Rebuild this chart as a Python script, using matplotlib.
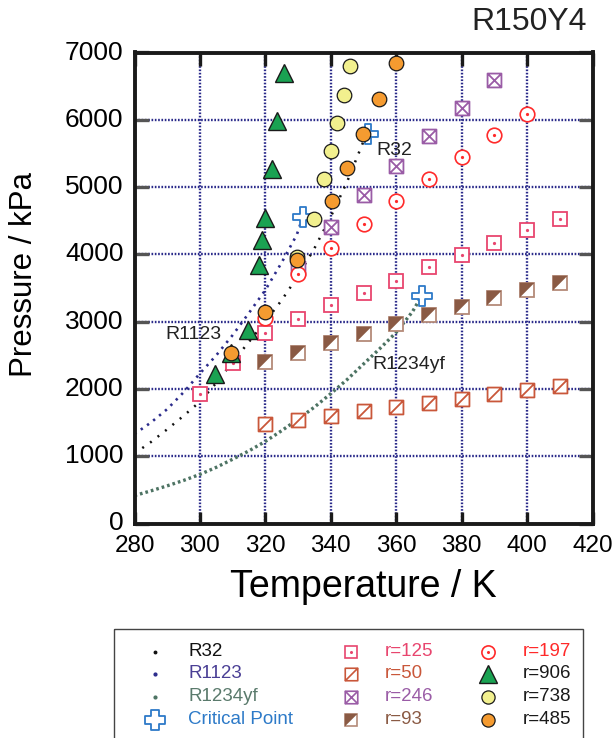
import matplotlib
matplotlib.use("Agg")
import matplotlib.pyplot as plt
from matplotlib.path import Path
from matplotlib.patches import Rectangle

plt.rcParams['font.family'] = ['Liberation Sans', 'DejaVu Sans']

# ---------------- data ----------------
T_r125 = [300, 310, 320, 330, 340, 350, 360, 370, 380, 390, 400, 410]
P_r125 = [1920, 2390, 2835, 3035, 3240, 3430, 3600, 3810, 3995, 4170, 4355, 4530]

T_r50 = [320, 330, 340, 350, 360, 370, 380, 390, 400, 410]
P_r50 = [1480, 1545, 1600, 1665, 1725, 1790, 1855, 1920, 1990, 2050]

T_r246 = [330, 340, 350, 360, 370, 380, 390]
P_r246 = [3790, 4405, 4875, 5320, 5755, 6175, 6595]

T_r93 = [320, 330, 340, 350, 360, 370, 380, 390, 400, 410]
P_r93 = [2405, 2540, 2690, 2815, 2960, 3100, 3220, 3345, 3470, 3580]

T_r197 = [320, 330, 340, 350, 360, 370, 380, 390, 400]
P_r197 = [3050, 3715, 4100, 4455, 4790, 5120, 5445, 5770, 6090]

T_r906 = [304.6, 309.6, 314.8, 318.1, 318.9, 319.9, 321.9, 323.7, 325.8]
P_r906 = [2220, 2530, 2875, 3840, 4210, 4535, 5270, 5985, 6700]

T_r738 = [329.8, 334.9, 337.9, 340.0, 342.0, 344.0, 345.9]
P_r738 = [3960, 4520, 5120, 5535, 5955, 6375, 6798]

T_r485 = [309.6, 319.9, 329.8, 340.3, 344.9, 349.9, 354.8, 359.9]
P_r485 = [2530, 3147, 3915, 4797, 5287, 5787, 6307, 6838]

T_cp = [351.4, 331.4, 367.8]
P_cp = [5790, 4550, 3385]

T_R32 = [280, 285, 290, 295, 300, 305, 310, 315, 320, 325, 330, 335, 340, 345, 350, 351.4]
P_R32 = [1040, 1210, 1400, 1600, 1810, 2090, 2400, 2700, 3000, 3320, 3680, 4090, 4560, 5080, 5680, 5790]

T_R1123 = [280, 285, 290, 295, 300, 305, 310, 315, 320, 325, 329.6, 331.4]
P_R1123 = [1330, 1500, 1700, 1950, 2230, 2500, 2800, 3130, 3470, 3880, 4290, 4550]

T_R1234yf = [280, 285, 290, 295, 300, 305, 310, 315, 320, 325, 330, 335, 340, 345, 350, 355, 360, 365, 367.8]
P_R1234yf = [415, 485, 560, 640, 730, 835, 955, 1080, 1220, 1380, 1550, 1730, 1930, 2140, 2370, 2600, 2840, 3150, 3385]

x_ticks = [280, 300, 320, 340, 360, 380, 400, 420]
y_ticks = [0, 1000, 2000, 3000, 4000, 5000, 6000, 7000]

# ---------------- marker shapes ----------------
sq = [(-1, -1), (1, -1), (1, 1), (-1, 1), (-1, -1)]
sq_codes = [Path.MOVETO, Path.LINETO, Path.LINETO, Path.LINETO, Path.CLOSEPOLY]
m_slash = Path(sq + [(-1, -1), (1, 1)], sq_codes + [Path.MOVETO, Path.LINETO])
m_cross = Path(sq + [(-1, -1), (1, 1), (-1, 1), (1, -1)],
               sq_codes + [Path.MOVETO, Path.LINETO, Path.MOVETO, Path.LINETO])
m_half = Path([(-1, -1), (-1, 1), (1, 1), (-1, -1)],
              [Path.MOVETO, Path.LINETO, Path.LINETO, Path.CLOSEPOLY])
a, b = 0.36, 1.0
m_plus = Path([(-a, b), (a, b), (a, a), (b, a), (b, -a), (a, -a), (a, -b), (-a, -b),
               (-a, -a), (-b, -a), (-b, a), (-a, a), (-a, b)],
              [Path.MOVETO] + [Path.LINETO] * 11 + [Path.CLOSEPOLY])

C125 = '#e8456e'
C50 = '#c9573a'
C246 = '#9a5ca6'
C93 = '#8a5a44'
C93e = '#b48a78'
C197 = '#ff2a2a'
CTRI = '#1aa252'
CYEL = '#f2f08e'
CORA = '#f59b30'
CCP = '#2d7ac8'
CR32 = '#111111'
CR1123 = '#2c2c8c'
CR1234 = '#4d7363'

fig = plt.figure(figsize=(6.16, 7.38), dpi=100)
ax = fig.add_axes([134.5 / 616, 1 - 523.5 / 738, 458 / 616, 471 / 738])

ax.set_xlim(280, 420)
ax.set_ylim(0, 7000)
ax.set_xticks(x_ticks)
ax.set_yticks(y_ticks)
ax.grid(True, color='#2a2a8a', linestyle=(0, (0.7, 0.7)), linewidth=1.7, zorder=0)
ax.set_axisbelow(True)

for s in ax.spines.values():
    s.set_linewidth(2.8)
    s.set_color('#1a1a1a')
    s.set_zorder(10)

ax.tick_params(axis='x', which='major', direction='in', length=9, width=2.4,
               color='#1a1a1a', top=True, bottom=True, labelsize=17.5, pad=8.5)
ax.tick_params(axis='y', which='major', direction='in', length=10, width=2.4,
               color='#555555', left=True, right=True, labelsize=19, pad=8)
for lbl in ax.get_yticklabels():
    lbl.set_verticalalignment('center')

# saturation curves
ax.plot(T_R32, P_R32, linestyle=(0, (0.8, 3.0)), color=CR32, lw=1.8, zorder=2)
ax.plot(T_R1123, P_R1123, linestyle=(0, (0.9, 2.0)), color=CR1123, lw=1.9, zorder=2)
ax.plot(T_R1234yf, P_R1234yf, linestyle=(0, (0.8, 0.9)), color=CR1234, lw=2.4, zorder=2)

# experimental points
ax.plot(T_r125, P_r125, ls='none', marker='s', ms=10, mfc='white', mec=C125, mew=1.3, zorder=3)
ax.plot(T_r125, P_r125, ls='none', marker='o', ms=1.3, mfc=C125, mec=C125, zorder=3)
ax.plot(T_r50, P_r50, ls='none', marker=m_slash, ms=10, mfc='white', mec=C50, mew=1.3, zorder=3)
ax.plot(T_r246, P_r246, ls='none', marker=m_cross, ms=10, mfc='white', mec=C246, mew=1.3, zorder=3)
ax.plot(T_r93, P_r93, ls='none', marker='s', ms=10, mfc='white', mec=C93e, mew=1.3, zorder=3)
ax.plot(T_r93, P_r93, ls='none', marker=m_half, ms=10, mfc=C93, mec=C93, mew=0.3, zorder=3)
ax.plot(T_r197, P_r197, ls='none', marker='o', ms=10.5, mfc='white', mec=C197, mew=1.2, zorder=4)
ax.plot(T_r197, P_r197, ls='none', marker='o', ms=1.3, mfc=C197, mec=C197, zorder=4)
ax.plot(T_cp, P_cp, ls='none', marker=m_plus, ms=14, mfc='white', mec=CCP, mew=1.3, zorder=4)
ax.plot(T_r906, P_r906, ls='none', marker='^', ms=13, mfc=CTRI, mec='#1a1a1a', mew=1.0, zorder=5)
ax.plot(T_r738, P_r738, ls='none', marker='o', ms=10.5, mfc=CYEL, mec='#1a1a1a', mew=0.9, zorder=5)
ax.plot(T_r485, P_r485, ls='none', marker='o', ms=10.5, mfc=CORA, mec='#1a1a1a', mew=0.9, zorder=6)

ax.text(353.8, 5550, 'R32', fontsize=14, color='#222222', ha='left', va='center', zorder=7)
ax.text(289.5, 2815, 'R1123', fontsize=14, color='#222222', ha='left', va='center', zorder=7)
ax.text(352.6, 2370, 'R1234yf', fontsize=14, color='#222222', ha='left', va='center', zorder=7)

ax.set_xlabel('Temperature / K', fontsize=27, va='center')
ax.xaxis.set_label_coords(0.5, -0.135)
ax.set_ylabel('Pressure / kPa', fontsize=22.5, va='center')
ax.yaxis.set_label_coords(-0.241, 0.528)

fig.text(587 / 616, 1 - 22 / 738, 'R150Y4', fontsize=23, ha='right', va='center', color='#222222')

# ---------------- legend (drawn in pixel overlay) ----------------
lax = fig.add_axes([0, 0, 1, 1])
lax.set_xlim(0, 616)
lax.set_ylim(738, 0)
lax.axis('off')
lax.add_patch(Rectangle((114, 629.3), 468.7, 130, fill=False, edgecolor='#444444', lw=1.0))

rows = [651.7, 673.5, 696.5, 719.5]
cols_m = [155, 350.7, 488.3]
cols_t = [188.3, 385, 522.7]
fs = 13.5

entries = [
    (0, 0, 'R32', CR32, dict(marker='o', ms=1.8, mfc=CR32, mec=CR32)),
    (0, 1, 'R1123', '#4a3f95', dict(marker='o', ms=2.0, mfc=CR1123, mec=CR1123)),
    (0, 2, 'R1234yf', '#5a7a6c', dict(marker='o', ms=2.0, mfc=CR1234, mec=CR1234)),
    (0, 3, 'Critical Point', CCP, dict(marker=m_plus, ms=15, mfc='white', mec=CCP, mew=1.3)),
    (1, 0, 'r=125', C125, dict(marker='s', ms=9, mfc='white', mec=C125, mew=1.2)),
    (1, 1, 'r=50', C50, dict(marker=m_slash, ms=9, mfc='white', mec=C50, mew=1.2)),
    (1, 2, 'r=246', C246, dict(marker=m_cross, ms=9, mfc='white', mec=C246, mew=1.2)),
    (1, 3, 'r=93', C93, dict(marker='s', ms=9, mfc='white', mec=C93e, mew=1.2)),
    (2, 0, 'r=197', C197, dict(marker='o', ms=9.5, mfc='white', mec=C197, mew=1.2)),
    (2, 1, 'r=906', '#1a1a1a', dict(marker='^', ms=13, mfc=CTRI, mec='#1a1a1a', mew=1.0)),
    (2, 2, 'r=738', '#1a1a1a', dict(marker='o', ms=9.5, mfc=CYEL, mec='#1a1a1a', mew=0.9)),
    (2, 3, 'r=485', '#1a1a1a', dict(marker='o', ms=9.5, mfc=CORA, mec='#1a1a1a', mew=0.9)),
]
for c, r, lab, tc, kw in entries:
    lax.plot([cols_m[c]], [rows[r]], ls='none', **kw)
    lax.text(cols_t[c], rows[r], lab, fontsize=fs, color=tc, ha='left', va='center')
lax.plot([cols_m[1]], [rows[3]], ls='none', marker=m_half, ms=9, mfc=C93, mec=C93, mew=0.3)
lax.plot([cols_m[1]], [rows[0]], ls='none', marker='o', ms=1.2, mfc=C125, mec=C125)
lax.plot([cols_m[2]], [rows[0]], ls='none', marker='o', ms=1.2, mfc=C197, mec=C197)

fig.savefig('out.png', dpi=100)
